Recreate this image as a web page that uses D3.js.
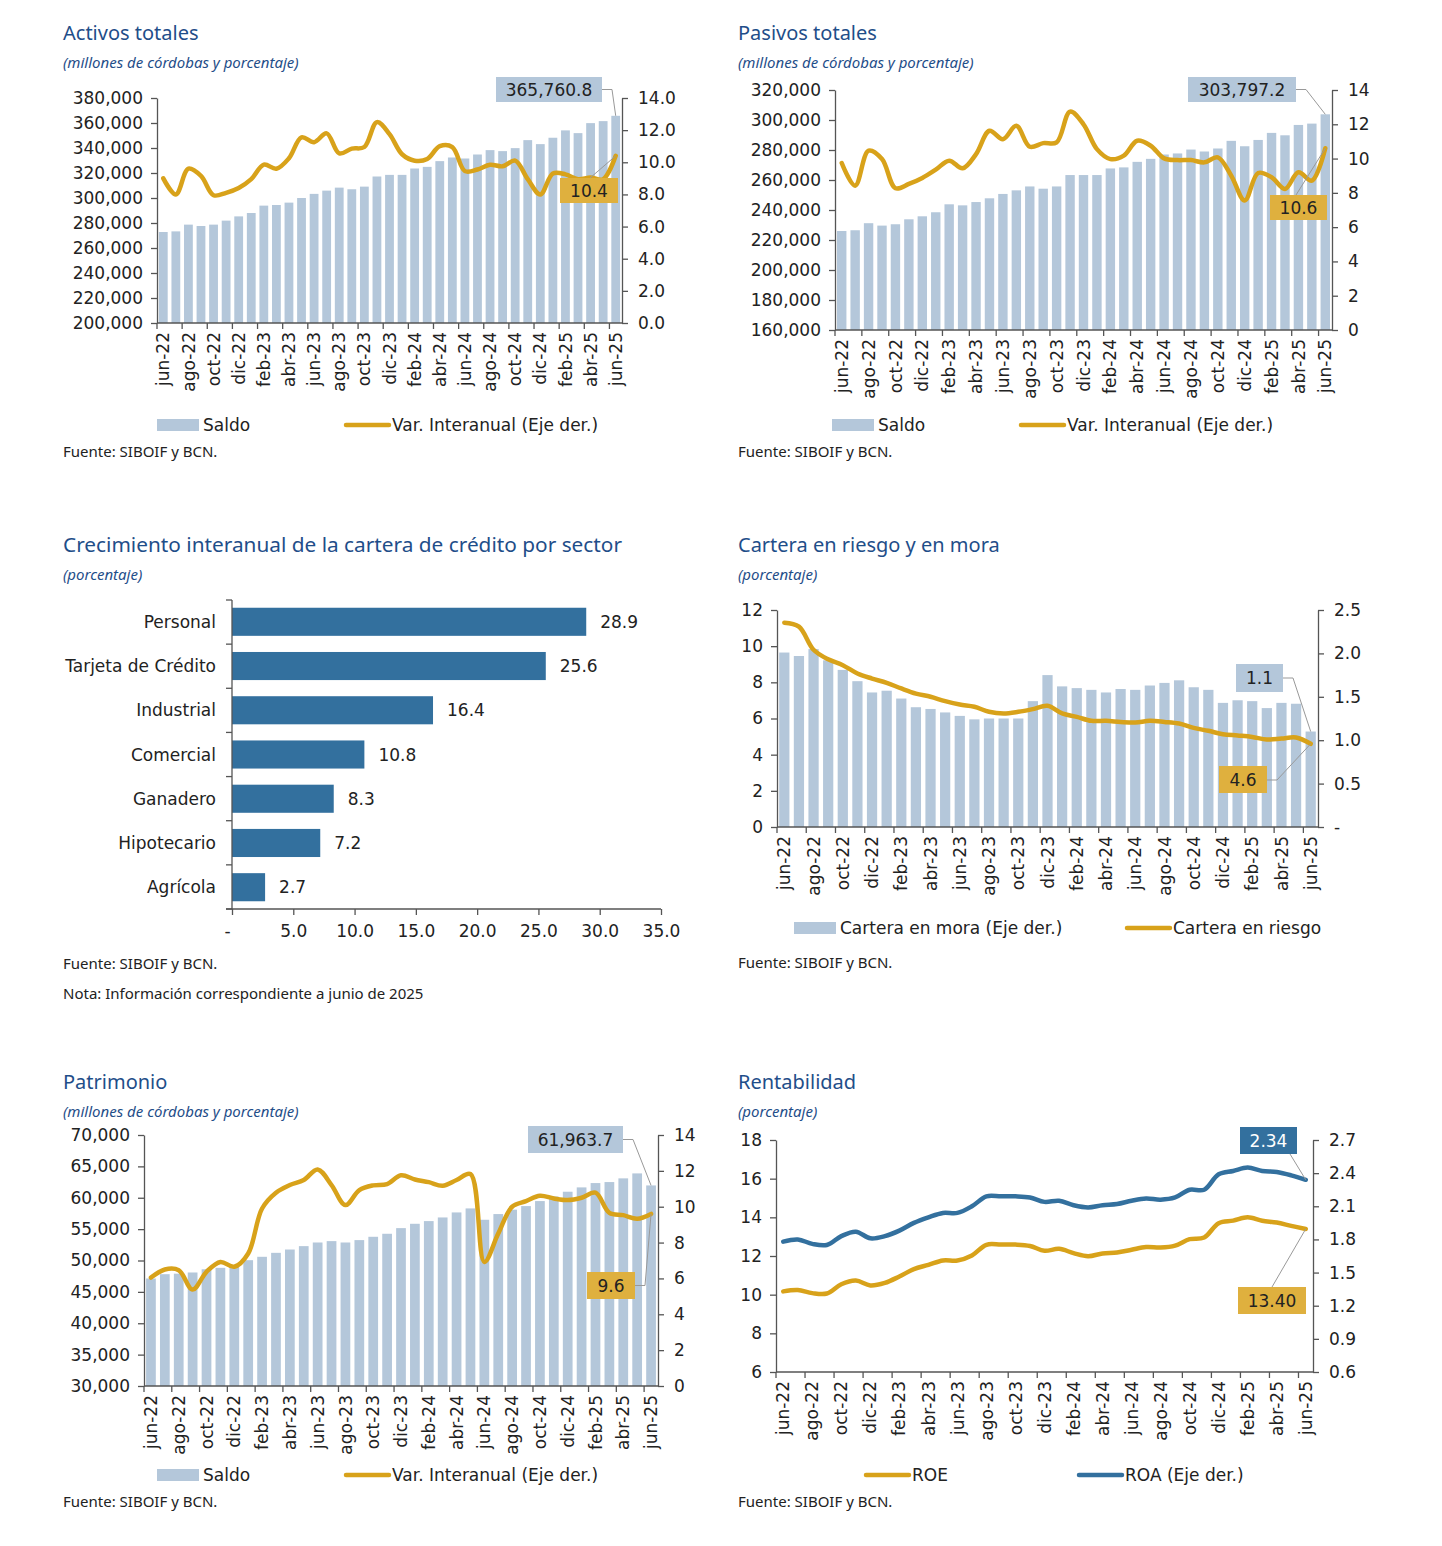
<!DOCTYPE html>
<html>
<head>
<meta charset="utf-8">
<script src="https://cdn.jsdelivr.net/npm/d3@7"></script>
<style>
  body { margin: 0; background: #fff; }
  text { font-family: "DejaVu Sans", Verdana, sans-serif; fill: #222; }
  .ttl { font-family: "Noto Sans", Lato, sans-serif; fill: #1f4e89; }
  .note { font-family: "Noto Sans", Lato, sans-serif; fill: #222; }
</style>
</head>
<body>
<svg id="chart" width="1442" height="1546"></svg>
<script>
// monthly categories, jun-22 .. jun-25
const months = ["jun-22","jul-22","ago-22","sep-22","oct-22","nov-22","dic-22",
  "ene-23","feb-23","mar-23","abr-23","may-23","jun-23","jul-23","ago-23","sep-23","oct-23","nov-23","dic-23",
  "ene-24","feb-24","mar-24","abr-24","may-24","jun-24","jul-24","ago-24","sep-24","oct-24","nov-24","dic-24",
  "ene-25","feb-25","mar-25","abr-25","may-25","jun-25"];

// Activos totales
const activosSaldo = [272800,273300,278700,277600,278700,281900,285300,288000,293900,294400,296300,300000,303300,
  305900,308300,307000,309100,317200,318500,318500,323600,324900,329500,332400,331600,334800,338300,337500,
  339900,346300,343100,348200,354100,351900,359900,361500,365760.8];
const activosVar = [9.0,8.0,9.6,9.15,7.95,8.1,8.4,8.95,9.85,9.6,10.25,11.55,11.25,11.8,10.55,10.85,10.95,12.5,
  11.75,10.5,10.1,10.2,11.0,10.95,9.45,9.55,9.85,9.75,10.1,8.95,8.0,9.3,9.25,8.95,9.05,8.95,10.4];

// Pasivos totales
const pasivosSaldo = [226000,226500,231200,229600,230500,233800,235800,238500,243800,243100,245300,247800,250700,
  253100,255700,254200,255700,263300,263300,263300,267700,268400,272100,274100,277000,277700,280300,279000,
  281000,286100,282500,286700,291400,289800,296700,297600,303797.2];
const pasivosVar = [9.74,8.42,10.46,9.97,8.27,8.52,8.87,9.35,9.88,9.43,10.26,11.62,11.13,11.91,10.69,10.9,10.94,
  12.74,12.0,10.55,9.97,10.17,11.04,10.75,10.01,9.91,9.91,9.78,10.07,9.0,7.55,9.16,8.91,8.23,9.2,8.71,10.6];

// Crecimiento por sector
const sectores = ["Personal","Tarjeta de Crédito","Industrial","Comercial","Ganadero","Hipotecario","Agrícola"];
const sectorCrec = [28.9,25.6,16.4,10.8,8.3,7.2,2.7];

// Cartera en riesgo y en mora
const carteraMora = [2.01,1.97,2.05,1.92,1.81,1.68,1.55,1.57,1.48,1.38,1.36,1.32,1.28,1.24,1.25,1.25,1.25,1.45,
  1.75,1.62,1.60,1.58,1.55,1.59,1.58,1.63,1.66,1.69,1.61,1.58,1.43,1.46,1.45,1.37,1.43,1.42,1.10];
const carteraRiesgo = [11.3,11.08,9.8,9.27,8.95,8.49,8.21,7.97,7.66,7.38,7.2,6.96,6.77,6.65,6.37,6.28,6.37,6.52,
  6.7,6.28,6.09,5.87,5.87,5.81,5.78,5.87,5.81,5.72,5.48,5.32,5.13,5.06,4.98,4.84,4.89,4.95,4.6];

// Patrimonio
const patrimonioSaldo = [47130,47820,47900,48090,48600,48830,49200,50050,50590,51220,51750,52290,52870,53090,
  52870,53250,53780,54260,55160,55850,56280,56860,57660,58300,56490,57400,58100,58670,59470,60200,60960,61650,
  62340,62500,63090,63880,61963.7];
const patrimonioVar = [6.05,6.5,6.46,5.38,6.37,6.92,6.65,7.39,9.9,10.78,11.21,11.49,12.08,11.21,10.09,10.93,11.19,
  11.26,11.75,11.52,11.37,11.17,11.49,11.82,6.92,8.5,10.0,10.31,10.61,10.46,10.37,10.5,10.78,9.66,9.53,9.33,9.6];

// Rentabilidad
const roe = [10.17,10.24,10.08,10.06,10.54,10.73,10.48,10.61,10.94,11.32,11.54,11.77,11.77,12.03,12.58,12.59,12.59,
  12.52,12.27,12.37,12.15,11.99,12.13,12.18,12.32,12.46,12.44,12.54,12.87,12.96,13.7,13.83,14.0,13.82,13.73,13.56,13.40];
const roa = [1.78,1.80,1.76,1.75,1.83,1.87,1.81,1.83,1.88,1.95,2.0,2.04,2.04,2.10,2.19,2.19,2.19,2.18,2.14,2.15,
  2.11,2.09,2.11,2.12,2.15,2.17,2.16,2.18,2.25,2.25,2.39,2.42,2.45,2.42,2.41,2.38,2.34];

const BAR = '#b4c7da', GOLD = '#d8a21a', GOLDBOX = '#dfb03e', BLUE = '#33709e', AXIS = '#555';
const FONT = 17;

const svg = d3.select('#chart');

function header(x, y, title, sub, size) {
  svg.append('text').attr('class', 'ttl').attr('x', x).attr('y', y)
    .attr('font-size', size || 20).text(title);
  svg.append('text').attr('class', 'ttl').attr('x', x).attr('y', y + 28)
    .attr('font-size', 15).attr('font-style', 'italic').text(sub);
}

function note(x, y, txt) {
  svg.append('text').attr('class', 'note').attr('x', x).attr('y', y)
    .attr('font-size', 15).text(txt);
}

function styleAxis(sel) {
  sel.selectAll('path, line').attr('stroke', AXIS).attr('stroke-width', 1.3);
  sel.selectAll('text').attr('font-size', FONT).attr('fill', '#222')
    .attr('font-family', '"DejaVu Sans", Verdana, sans-serif');
}

function valueBox(g, b, txt, fill, color, leader) {
  g.append('polyline').attr('points', leader.map(p => p.join(',')).join(' '))
    .attr('fill', 'none').attr('stroke', '#999').attr('stroke-width', 1);
  g.append('rect').attr('x', b[0]).attr('y', b[1]).attr('width', b[2]).attr('height', b[3]).attr('fill', fill);
  g.append('text').attr('x', b[0] + b[2] / 2).attr('y', b[1] + b[3] / 2).attr('dy', '0.36em')
    .attr('text-anchor', 'middle').attr('font-size', FONT).style('fill', color).text(txt);
}

function legend(g, y, items) {
  items.forEach(it => {
    if (it.kind === 'bar') {
      g.append('rect').attr('x', it.x).attr('y', y - 6).attr('width', 42).attr('height', 12).attr('fill', it.color);
    } else {
      g.append('line').attr('x1', it.x).attr('x2', it.x + 43).attr('y1', y).attr('y2', y)
        .attr('stroke', it.color).attr('stroke-width', 4.5).attr('stroke-linecap', 'round');
    }
    g.append('text').attr('x', it.x + 46).attr('y', y).attr('dy', '0.36em').attr('font-size', FONT).text(it.label);
  });
}

// dual-axis monthly panel: optional bars + lines
function monthlyPanel(cfg) {
  const g = svg.append('g');
  const x = d3.scaleBand().domain(months).range([cfg.left, cfg.right]).paddingInner(0.3).paddingOuter(0.15);
  const step = x.step();
  const cx = d => x(d) + x.bandwidth() / 2;
  const yL = d3.scaleLinear().domain(cfg.leftDomain).range([cfg.bottom, cfg.top]);
  const yR = d3.scaleLinear().domain(cfg.rightDomain).range([cfg.bottom, cfg.top]);
  const scales = { L: yL, R: yR };

  if (cfg.bars) {
    const ys = scales[cfg.bars.axis];
    g.append('g').selectAll('rect').data(cfg.bars.values).join('rect')
      .attr('x', (d, i) => x(months[i]))
      .attr('width', x.bandwidth())
      .attr('y', d => ys(d))
      .attr('height', d => cfg.bottom - ys(d))
      .attr('fill', BAR);
  }

  cfg.lines.forEach(ln => {
    const ys = scales[ln.axis];
    const line = d3.line().x((d, i) => cx(months[i])).y(d => ys(d)).curve(d3.curveCatmullRom.alpha(0.5));
    g.append('path').datum(ln.values).attr('d', line).attr('fill', 'none')
      .attr('stroke', ln.color).attr('stroke-width', 4.5).attr('stroke-linecap', 'round');
  });

  // axes
  const la = g.append('g').attr('transform', `translate(${cfg.left},0)`)
    .call(d3.axisLeft(yL).tickValues(cfg.leftTicks).tickFormat(cfg.leftFmt).tickSize(6).tickPadding(8).tickSizeOuter(0));
  styleAxis(la);
  const ra = g.append('g').attr('transform', `translate(${cfg.right},0)`)
    .call(d3.axisRight(yR).tickValues(cfg.rightTicks).tickFormat(cfg.rightFmt).tickSize(6).tickPadding(10).tickSizeOuter(0));
  styleAxis(ra);

  // category axis: ticks every 2 months at band boundaries, labels rotated
  g.append('line').attr('x1', cfg.left).attr('x2', cfg.right).attr('y1', cfg.bottom).attr('y2', cfg.bottom)
    .attr('stroke', AXIS).attr('stroke-width', 1.3);
  const tickIdx = d3.range(0, months.length, 2);
  g.append('g').selectAll('line').data(tickIdx).join('line')
    .attr('x1', i => cfg.left + i * step).attr('x2', i => cfg.left + i * step)
    .attr('y1', cfg.bottom).attr('y2', cfg.bottom + 6)
    .attr('stroke', AXIS).attr('stroke-width', 1.3);
  g.append('g').selectAll('text').data(tickIdx).join('text')
    .attr('transform', i => `translate(${cx(months[i])},${cfg.bottom + 9}) rotate(-90)`)
    .attr('text-anchor', 'end').attr('dy', '0.36em').attr('font-size', FONT)
    .text(i => months[i]);

  const last = months[months.length - 1];
  cfg.boxes.forEach(bx => {
    const ys = scales[bx.axis];
    const end = [cx(last), ys(bx.value)];
    valueBox(g, bx.box, bx.text, bx.fill, bx.color || '#222', bx.from.concat([end]));
  });

  legend(g, cfg.legendY, cfg.legend);
}

// ---------- Activos totales ----------
header(63, 40, 'Activos totales', '(millones de córdobas y porcentaje)');
monthlyPanel({
  left: 157, right: 622, top: 98, bottom: 323,
  leftDomain: [200000, 380000], leftTicks: d3.range(200000, 380001, 20000), leftFmt: d3.format(','),
  rightDomain: [0, 14], rightTicks: d3.range(0, 14.1, 2), rightFmt: d3.format('.1f'),
  bars: { axis: 'L', values: activosSaldo },
  lines: [{ axis: 'R', values: activosVar, color: GOLD }],
  boxes: [
    { axis: 'L', value: activosSaldo[36], text: '365,760.8', fill: BAR, box: [496, 77, 106, 25], from: [[602, 89.5], [612, 89.5]] },
    { axis: 'R', value: activosVar[36], text: '10.4', fill: GOLDBOX, box: [560, 178, 58, 25], from: [[590, 178]] }
  ],
  legendY: 425,
  legend: [{ kind: 'bar', x: 157, color: BAR, label: 'Saldo' }, { kind: 'line', x: 346, color: GOLD, label: 'Var. Interanual (Eje der.)' }]
});
note(63, 457, 'Fuente: SIBOIF y BCN.');

// ---------- Pasivos totales ----------
header(738, 40, 'Pasivos totales', '(millones de córdobas y porcentaje)');
monthlyPanel({
  left: 835, right: 1332, top: 90, bottom: 330,
  leftDomain: [160000, 320000], leftTicks: d3.range(160000, 320001, 20000), leftFmt: d3.format(','),
  rightDomain: [0, 14], rightTicks: d3.range(0, 14.1, 2), rightFmt: d3.format('d'),
  bars: { axis: 'L', values: pasivosSaldo },
  lines: [{ axis: 'R', values: pasivosVar, color: GOLD }],
  boxes: [
    { axis: 'L', value: pasivosSaldo[36], text: '303,797.2', fill: BAR, box: [1188, 77, 108, 25], from: [[1296, 89.5], [1306, 89.5]] },
    { axis: 'R', value: pasivosVar[36], text: '10.6', fill: GOLDBOX, box: [1270, 195, 57, 25], from: [[1296, 195]] }
  ],
  legendY: 425,
  legend: [{ kind: 'bar', x: 832, color: BAR, label: 'Saldo' }, { kind: 'line', x: 1021, color: GOLD, label: 'Var. Interanual (Eje der.)' }]
});
note(738, 457, 'Fuente: SIBOIF y BCN.');

// ---------- Crecimiento por sector ----------
header(63, 552, 'Crecimiento interanual de la cartera de crédito por sector', '(porcentaje)', 20.8);
(function () {
  const g = svg.append('g');
  const left = 232, right = 661, top = 600, bottom = 909;
  const x = d3.scaleLinear().domain([0, 35]).range([left, right]);
  const y = d3.scaleBand().domain(sectores).range([top, bottom]).paddingInner(0.365).paddingOuter(0.175);

  g.append('g').selectAll('rect').data(sectorCrec).join('rect')
    .attr('x', left).attr('y', (d, i) => y(sectores[i]))
    .attr('width', d => x(d) - left).attr('height', y.bandwidth())
    .attr('fill', BLUE);
  g.append('g').selectAll('text').data(sectorCrec).join('text')
    .attr('x', d => x(d) + 14).attr('y', (d, i) => y(sectores[i]) + y.bandwidth() / 2)
    .attr('dy', '0.36em').attr('font-size', FONT).text(d => d3.format('.1f')(d));
  g.append('g').selectAll('text').data(sectores).join('text')
    .attr('x', left - 16).attr('y', d => y(d) + y.bandwidth() / 2)
    .attr('dy', '0.36em').attr('text-anchor', 'end').attr('font-size', FONT).text(d => d);

  // category axis with ticks at band boundaries
  g.append('line').attr('x1', left).attr('x2', left).attr('y1', top).attr('y2', bottom).attr('stroke', AXIS).attr('stroke-width', 1.3);
  const bounds = d3.range(sectores.length + 1).map(i => top + i * (bottom - top) / sectores.length);
  g.append('g').selectAll('line').data(bounds).join('line')
    .attr('x1', left - 6).attr('x2', left).attr('y1', d => d).attr('y2', d => d).attr('stroke', AXIS).attr('stroke-width', 1.3);

  const xa = g.append('g').attr('transform', `translate(0,${bottom})`)
    .call(d3.axisBottom(x).tickValues(d3.range(0, 35.1, 5)).tickFormat(d => d === 0 ? '-' : d3.format('.1f')(d))
      .tickSize(6).tickPadding(10).tickSizeOuter(0));
  styleAxis(xa);
  xa.select('.domain').attr('d', `M${left - 6},0H${right}`);
  xa.selectAll('.tick').filter(d => d === 0).select('text').attr('dx', -5);
})();
note(63, 969, 'Fuente: SIBOIF y BCN.');
note(63, 999, 'Nota: Información correspondiente a junio de 2025');

// ---------- Cartera en riesgo y en mora ----------
header(738, 552, 'Cartera en riesgo y en mora', '(porcentaje)');
monthlyPanel({
  left: 777, right: 1318, top: 610, bottom: 827,
  leftDomain: [0, 12], leftTicks: d3.range(0, 12.1, 2), leftFmt: d3.format('d'),
  rightDomain: [0, 2.5], rightTicks: d3.range(0, 2.51, 0.5), rightFmt: d => d === 0 ? '-' : d3.format('.1f')(d),
  bars: { axis: 'R', values: carteraMora },
  lines: [{ axis: 'L', values: carteraRiesgo, color: GOLD }],
  boxes: [
    { axis: 'R', value: carteraMora[36], text: '1.1', fill: BAR, box: [1236, 664, 47, 28], from: [[1283, 678], [1293, 678]] },
    { axis: 'L', value: carteraRiesgo[36], text: '4.6', fill: GOLDBOX, box: [1219, 766, 48, 27], from: [[1267, 780], [1277, 780]] }
  ],
  legendY: 928,
  legend: [{ kind: 'bar', x: 794, color: BAR, label: 'Cartera en mora (Eje der.)' }, { kind: 'line', x: 1127, color: GOLD, label: 'Cartera en riesgo' }]
});
note(738, 968, 'Fuente: SIBOIF y BCN.');

// ---------- Patrimonio ----------
header(63, 1089, 'Patrimonio', '(millones de córdobas y porcentaje)');
monthlyPanel({
  left: 144, right: 658, top: 1135, bottom: 1386,
  leftDomain: [30000, 70000], leftTicks: d3.range(30000, 70001, 5000), leftFmt: d3.format(','),
  rightDomain: [0, 14], rightTicks: d3.range(0, 14.1, 2), rightFmt: d3.format('d'),
  bars: { axis: 'L', values: patrimonioSaldo },
  lines: [{ axis: 'R', values: patrimonioVar, color: GOLD }],
  boxes: [
    { axis: 'L', value: patrimonioSaldo[36], text: '61,963.7', fill: BAR, box: [528, 1126, 95, 27], from: [[623, 1139.5], [633, 1139.5]] },
    { axis: 'R', value: patrimonioVar[36], text: '9.6', fill: GOLDBOX, box: [587, 1272, 48, 27], from: [[635, 1285.5], [645, 1285.5]] }
  ],
  legendY: 1475,
  legend: [{ kind: 'bar', x: 157, color: BAR, label: 'Saldo' }, { kind: 'line', x: 346, color: GOLD, label: 'Var. Interanual (Eje der.)' }]
});
note(63, 1507, 'Fuente: SIBOIF y BCN.');

// ---------- Rentabilidad ----------
header(738, 1089, 'Rentabilidad', '(porcentaje)');
monthlyPanel({
  left: 776, right: 1313, top: 1140, bottom: 1372,
  leftDomain: [6, 18], leftTicks: d3.range(6, 18.1, 2), leftFmt: d3.format('d'),
  rightDomain: [0.6, 2.7], rightTicks: [0.6, 0.9, 1.2, 1.5, 1.8, 2.1, 2.4, 2.7], rightFmt: d3.format('.1f'),
  bars: null,
  lines: [{ axis: 'L', values: roe, color: GOLD }, { axis: 'R', values: roa, color: BLUE }],
  boxes: [
    { axis: 'R', value: roa[36], text: '2.34', fill: BLUE, color: '#fff', box: [1240, 1127, 57, 27], from: [[1290, 1154]] },
    { axis: 'L', value: roe[36], text: '13.40', fill: GOLDBOX, box: [1238, 1287, 68, 27], from: [[1272, 1287]] }
  ],
  legendY: 1475,
  legend: [{ kind: 'line', x: 866, color: GOLD, label: 'ROE' }, { kind: 'line', x: 1079, color: BLUE, label: 'ROA (Eje der.)' }]
});
note(738, 1507, 'Fuente: SIBOIF y BCN.');
</script>
</body>
</html>
